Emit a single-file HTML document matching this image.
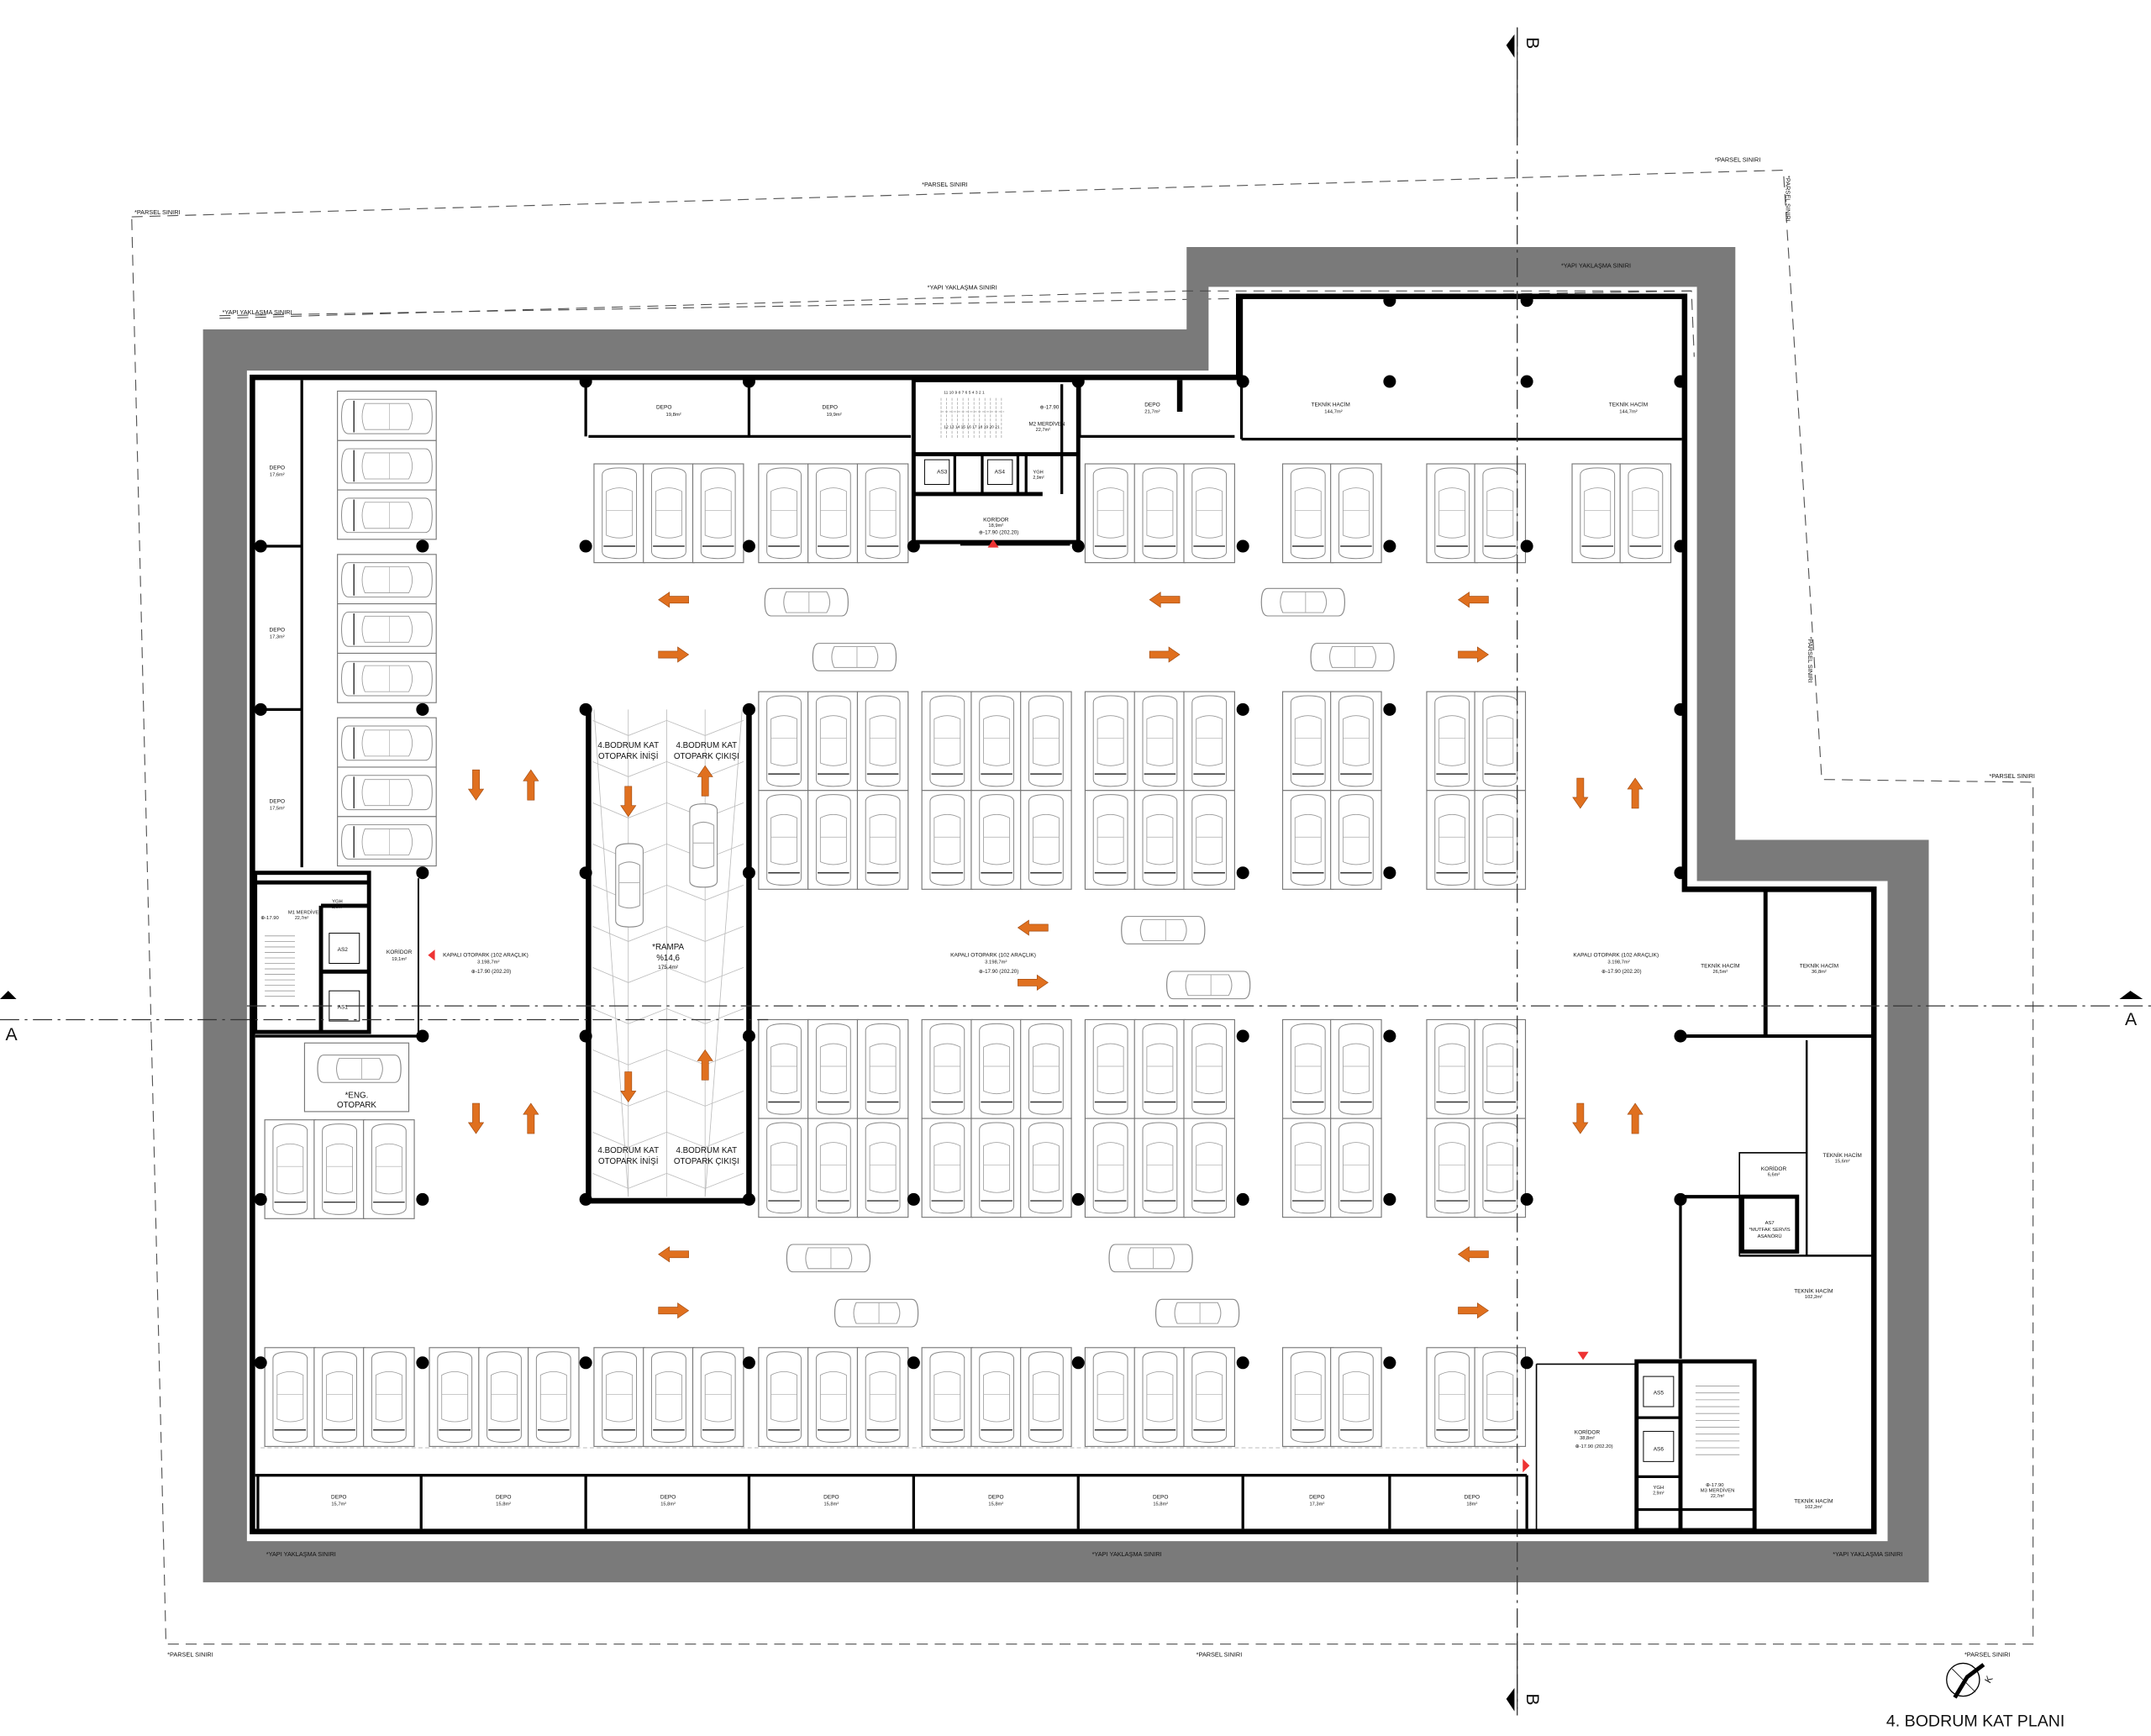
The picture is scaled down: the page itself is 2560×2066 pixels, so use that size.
<!DOCTYPE html>
<html><head><meta charset="utf-8"><style>
html,body{margin:0;padding:0;background:#fff}
svg{display:block}
text{font-family:"Liberation Sans",sans-serif;fill:#111}
</style></head><body>
<svg width="2560" height="2066" viewBox="0 0 1568 1265" preserveAspectRatio="none" xmlns="http://www.w3.org/2000/svg">
<defs>
<g id="car">
<path d="M6,8 Q6,3 18.5,3 Q31,3 31,8 L31,64 Q31,69 18.5,69 Q6,69 6,64 Z" fill="#fff" stroke="#888" stroke-width="0.6"/>
<path d="M9,20 Q18.5,15 28,20 L28,52 Q18.5,56 9,52 Z" fill="none" stroke="#999" stroke-width="0.5"/>
<line x1="9" y1="34" x2="28" y2="34" stroke="#aaa" stroke-width="0.4"/>
<line x1="7" y1="60" x2="30" y2="60" stroke="#333" stroke-width="0.9"/>
</g>
<g id="carb">
<path d="M6,8 Q6,3 18.5,3 Q31,3 31,8 L31,64 Q31,69 18.5,69 Q6,69 6,64 Z" fill="#fff" stroke="#888" stroke-width="0.8"/>
<path d="M9,20 Q18.5,15 28,20 L28,52 Q18.5,56 9,52 Z" fill="none" stroke="#999" stroke-width="0.7"/>
<line x1="9" y1="34" x2="28" y2="34" stroke="#aaa" stroke-width="0.6"/>
</g>
<g id="sv"><rect x="0" y="0" width="37" height="72" fill="#fff" stroke="#777" stroke-width="0.7"/><use href="#car"/></g>
<g id="g3"><use href="#sv"/><use href="#sv" x="36"/><use href="#sv" x="72"/></g>
<g id="g2"><use href="#sv"/><use href="#sv" x="35"/></g>
<g id="d3"><use href="#g3"/><use href="#g3" y="72"/></g>
<g id="d2"><use href="#g2"/><use href="#g2" y="72"/></g>
<g id="hc3"><rect x="0" y="0" width="72" height="108" fill="#fff" stroke="#777" stroke-width="0.7"/><g transform="translate(72,0) rotate(90)"><use href="#car"/></g><g transform="translate(72,36) rotate(90)"><use href="#car"/></g><g transform="translate(72,72) rotate(90)"><use href="#car"/></g><line x1="0" y1="36" x2="72" y2="36" stroke="#777" stroke-width="0.7"/><line x1="0" y1="72" x2="72" y2="72" stroke="#777" stroke-width="0.7"/></g>
<g id="fcar"><g transform="translate(66,-2) rotate(90) scale(0.8,0.92)"><use href="#carb"/></g></g>
<path id="ar" d="M-11,-2.5 L3,-2.5 L3,-5.5 L11,0 L3,5.5 L3,2.5 L-11,2.5 Z" fill="#e0701f" stroke="#a04a10" stroke-width="0.4"/>
<circle id="col" r="4.6" fill="#000"/>
</defs>

<!-- parcel boundary -->
<g fill="none" stroke="#555" stroke-width="0.7" stroke-dasharray="8,5">
<polyline points="96,158 1300,124 1328,568 1482,570 1482,1198 121,1198 96,158"/>
<polyline points="160,230 1233,212 1235,260"/>
</g>
<text x="98" y="156" font-size="4.5">*PARSEL SINIRI</text>
<text x="672" y="136" font-size="4.5">*PARSEL SINIRI</text>
<text x="1250" y="118" font-size="4.5">*PARSEL SINIRI</text>
<text x="1450" y="567" font-size="4.5">*PARSEL SINIRI</text>
<text x="122" y="1207" font-size="4.5">*PARSEL SINIRI</text>
<text x="872" y="1207" font-size="4.5">*PARSEL SINIRI</text>
<text x="1432" y="1207" font-size="4.5">*PARSEL SINIRI</text>
<text transform="translate(1302,128) rotate(90)" font-size="4.5">*PARSEL SINIRI</text>
<text transform="translate(1318,464) rotate(90)" font-size="4.5">*PARSEL SINIRI</text>

<!-- gray band -->
<path d="M148,240 L865,240 L865,180 L1265,180 L1265,612 L1406,612 L1406,1153 L148,1153 Z M180,270 L180,1123 L1376,1123 L1376,642 L1237,642 L1237,209 L881,209 L881,270 Z" fill="#7a7a7a" fill-rule="evenodd"/>
<polyline points="160,232 865,212 1233,212" fill="none" stroke="#444" stroke-width="0.6" stroke-dasharray="8,5"/>
<text x="162" y="229" font-size="4.5">*YAPI YAKLAŞMA SINIRI</text>
<text x="676" y="211" font-size="4.5">*YAPI YAKLAŞMA SINIRI</text>
<text x="1138" y="195" font-size="4.5">*YAPI YAKLAŞMA SINIRI</text>
<text x="194" y="1134" font-size="4.5">*YAPI YAKLAŞMA SINIRI</text>
<text x="796" y="1134" font-size="4.5">*YAPI YAKLAŞMA SINIRI</text>
<text x="1336" y="1134" font-size="4.5">*YAPI YAKLAŞMA SINIRI</text>

<!-- main walls -->
<path d="M184,275 L903,275 L903,216 L1228,216 L1228,648 L1366,648 L1366,1116 L184,1116 Z" fill="none" stroke="#000" stroke-width="4"/>

<!-- top rooms -->
<g stroke="#000" stroke-width="2" fill="none">
<line x1="427" y1="277" x2="427" y2="318"/><line x1="546" y1="277" x2="546" y2="318"/>
<line x1="429" y1="318" x2="664" y2="318"/>
<line x1="787" y1="318" x2="900" y2="318"/>
<line x1="787" y1="277" x2="787" y2="318"/>
<line x1="905" y1="320" x2="1226" y2="320"/>
<line x1="905" y1="218" x2="905" y2="320"/>
<line x1="860" y1="277" x2="860" y2="300" stroke-width="4"/>
</g>
<text x="484" y="298" font-size="4" text-anchor="middle">DEPO</text><text x="491" y="303" font-size="3.6" text-anchor="middle">19,8m²</text>
<text x="605" y="298" font-size="4" text-anchor="middle">DEPO</text><text x="608" y="303" font-size="3.6" text-anchor="middle">19,9m²</text>
<text x="840" y="296" font-size="4" text-anchor="middle">DEPO</text><text x="840" y="301" font-size="3.6" text-anchor="middle">21,7m²</text>
<text x="970" y="296" font-size="4" text-anchor="middle">TEKNİK HACİM</text><text x="972" y="301" font-size="3.6" text-anchor="middle">144,7m²</text>
<text x="1187" y="296" font-size="4" text-anchor="middle">TEKNİK HACİM</text><text x="1187" y="301" font-size="3.6" text-anchor="middle">144,7m²</text>

<!-- top core -->
<g stroke="#000" fill="none">
<rect x="666" y="277" width="120" height="118" stroke-width="3"/>
<line x1="666" y1="331" x2="786" y2="331" stroke-width="3"/>
<line x1="696" y1="331" x2="696" y2="360" stroke-width="2"/>
<line x1="716" y1="331" x2="716" y2="360" stroke-width="2"/>
<line x1="742" y1="331" x2="742" y2="360" stroke-width="2"/>
<line x1="748" y1="331" x2="748" y2="360" stroke-width="2"/>
<line x1="666" y1="360" x2="760" y2="360" stroke-width="3"/>
<line x1="774" y1="280" x2="774" y2="360" stroke-width="2"/>
<rect x="674" y="335" width="18" height="18" stroke-width="0.6"/>
<rect x="720" y="335" width="18" height="18" stroke-width="0.6"/>
</g>
<g stroke="#aaa" stroke-width="0.5" stroke-dasharray="2,1">
<line x1="686" y1="290" x2="686" y2="320"/><line x1="690" y1="290" x2="690" y2="320"/><line x1="694" y1="290" x2="694" y2="320"/><line x1="698" y1="290" x2="698" y2="320"/><line x1="702" y1="290" x2="702" y2="320"/><line x1="706" y1="290" x2="706" y2="320"/><line x1="710" y1="290" x2="710" y2="320"/><line x1="714" y1="290" x2="714" y2="320"/><line x1="718" y1="290" x2="718" y2="320"/><line x1="722" y1="290" x2="722" y2="320"/><line x1="726" y1="290" x2="726" y2="320"/><line x1="730" y1="290" x2="730" y2="320"/>
<line x1="686" y1="300" x2="732" y2="300"/>
</g>
<text x="688" y="287" font-size="3">11 10 9 8 7 6 5 4 3 2 1</text>
<text x="688" y="312" font-size="3">12 13 14 15 16 17 18 19 20 21</text>
<text x="750" y="310" font-size="3.8">M2 MERDİVEN</text><text x="755" y="314" font-size="3.4">22,7m²</text>
<text x="758" y="298" font-size="3.8">⊕-17.90</text>
<text x="683" y="345" font-size="4">AS3</text><text x="725" y="345" font-size="4">AS4</text>
<text x="753" y="345" font-size="3.5">YGH</text><text x="753" y="349" font-size="3.2">2,9m²</text>
<text x="726" y="380" font-size="4" text-anchor="middle">KORİDOR</text><text x="726" y="384" font-size="3.5" text-anchor="middle">18,9m²</text>
<text x="728" y="389" font-size="3.8" text-anchor="middle">⊕-17.90 (202.20)</text>
<line x1="700" y1="397" x2="780" y2="397" stroke="#000" stroke-width="1.2"/>
<polygon points="724,397 728,403 720,403" fill="#e33" transform="translate(0,-4)"/>

<!-- left depots -->
<g stroke="#000" fill="none">
<line x1="220" y1="277" x2="220" y2="632" stroke-width="2"/>
<line x1="186" y1="398" x2="220" y2="398" stroke-width="2"/>
<line x1="186" y1="517" x2="220" y2="517" stroke-width="2"/>
</g>
<text x="202" y="342" font-size="4" text-anchor="middle">DEPO</text><text x="202" y="347" font-size="3.5" text-anchor="middle">17,6m²</text>
<text x="202" y="460" font-size="4" text-anchor="middle">DEPO</text><text x="202" y="465" font-size="3.5" text-anchor="middle">17,3m²</text>
<text x="202" y="585" font-size="4" text-anchor="middle">DEPO</text><text x="202" y="590" font-size="3.5" text-anchor="middle">17,5m²</text>

<!-- left core -->
<g stroke="#000" fill="none">
<rect x="186" y="636" width="83" height="116" stroke-width="3"/>
<line x1="234" y1="660" x2="234" y2="752" stroke-width="3"/>
<line x1="234" y1="660" x2="269" y2="660" stroke-width="3"/>
<line x1="234" y1="708" x2="269" y2="708" stroke-width="3"/>
<line x1="186" y1="643" x2="269" y2="643" stroke-width="3"/>
<line x1="269" y1="660" x2="269" y2="752" stroke-width="2"/>
<rect x="240" y="680" width="22" height="22" stroke-width="0.6"/>
<rect x="240" y="722" width="22" height="22" stroke-width="0.6"/>
<line x1="305" y1="640" x2="305" y2="752" stroke-width="1.2"/>
</g>
<g stroke="#999" stroke-width="0.5">
<line x1="193" y1="682" x2="215" y2="682"/><line x1="193" y1="686" x2="215" y2="686"/><line x1="193" y1="690" x2="215" y2="690"/><line x1="193" y1="694" x2="215" y2="694"/><line x1="193" y1="698" x2="215" y2="698"/><line x1="193" y1="702" x2="215" y2="702"/><line x1="193" y1="706" x2="215" y2="706"/><line x1="193" y1="710" x2="215" y2="710"/><line x1="193" y1="714" x2="215" y2="714"/><line x1="193" y1="718" x2="215" y2="718"/><line x1="193" y1="722" x2="215" y2="722"/><line x1="193" y1="726" x2="215" y2="726"/>
</g>
<text x="210" y="666" font-size="3.6">M1 MERDİVEN</text><text x="215" y="670" font-size="3.2">22,7m²</text>
<text x="190" y="670" font-size="3.6">⊕-17.90</text>
<text x="242" y="658" font-size="3.6">YGH</text><text x="242" y="662" font-size="3.2">2,9m²</text>
<text x="246" y="693" font-size="4">AS2</text><text x="246" y="735" font-size="4">AS1</text>
<text x="291" y="695" font-size="4" text-anchor="middle">KORİDOR</text><text x="291" y="700" font-size="3.5" text-anchor="middle">19,1m²</text>
<polygon points="312,696 317,692 317,700" fill="#e33"/>

<!-- ENG OTOPARK -->
<rect x="222" y="760" width="76" height="50" fill="#fff" stroke="#777" stroke-width="0.7"/>
<use href="#fcar" transform="translate(229,766)"/>
<text x="260" y="800" font-size="6" text-anchor="middle">*ENG.</text>
<text x="260" y="807" font-size="6" text-anchor="middle">OTOPARK</text>
<line x1="186" y1="755" x2="305" y2="755" stroke="#000" stroke-width="2"/>

<!-- left column stalls -->
<use href="#hc3" x="246" y="285"/>
<use href="#hc3" x="246" y="404"/>
<use href="#hc3" x="246" y="523"/>

<!-- parking rows -->
<use href="#g3" x="433" y="338"/><use href="#g3" x="553" y="338"/><use href="#g3" x="791" y="338"/>
<use href="#g2" x="935" y="338"/><use href="#g2" x="1040" y="338"/><use href="#g2" x="1146" y="338"/>

<use href="#d3" x="553" y="504"/><use href="#d3" x="672" y="504"/><use href="#d3" x="791" y="504"/>
<use href="#d2" x="935" y="504"/><use href="#d2" x="1040" y="504"/>

<use href="#d3" x="553" y="743"/><use href="#d3" x="672" y="743"/><use href="#d3" x="791" y="743"/>
<use href="#d2" x="935" y="743"/><use href="#d2" x="1040" y="743"/>
<use href="#g3" x="193" y="816"/>

<use href="#g3" x="193" y="982"/><use href="#g3" x="313" y="982"/><use href="#g3" x="433" y="982"/>
<use href="#g3" x="553" y="982"/><use href="#g3" x="672" y="982"/><use href="#g3" x="791" y="982"/>
<use href="#g2" x="935" y="982"/><use href="#g2" x="1040" y="982"/>
<line x1="190" y1="1055" x2="1110" y2="1055" stroke="#bbb" stroke-width="0.6" stroke-dasharray="3,2"/>

<!-- aisle cars -->
<use href="#fcar" x="555" y="426"/><use href="#fcar" x="590" y="466"/>
<use href="#fcar" x="917" y="426"/><use href="#fcar" x="953" y="466"/>
<use href="#fcar" x="815" y="665"/><use href="#fcar" x="848" y="705"/>
<use href="#fcar" x="571" y="904"/><use href="#fcar" x="606" y="944"/>
<use href="#fcar" x="806" y="904"/><use href="#fcar" x="840" y="944"/>

<!-- ramp -->
<g stroke="#bbb" stroke-width="0.5" fill="none">
<line x1="433" y1="517" x2="458" y2="872"/><line x1="541" y1="517" x2="514" y2="872"/>
<line x1="458" y1="517" x2="458" y2="872"/><line x1="486" y1="517" x2="486" y2="872"/><line x1="514" y1="517" x2="514" y2="872"/>
<polyline points="432,525 458,536 486,525 514,536 542,525"/>
<polyline points="432,555 458,566 486,555 514,566 542,555"/>
<polyline points="432,585 458,596 486,585 514,596 542,585"/>
<polyline points="432,615 458,626 486,615 514,626 542,615"/>
<polyline points="432,645 458,656 486,645 514,656 542,645"/>
<polyline points="432,675 458,686 486,675 514,686 542,675"/>
<polyline points="432,705 458,716 486,705 514,716 542,705"/>
<polyline points="432,735 458,746 486,735 514,746 542,735"/>
<polyline points="432,765 458,776 486,765 514,776 542,765"/>
<polyline points="432,795 458,806 486,795 514,806 542,795"/>
<polyline points="432,825 458,836 486,825 514,836 542,825"/>
<polyline points="432,855 458,866 486,855 514,866 542,855"/>
</g>
<g stroke="#000" stroke-width="4" fill="none">
<polyline points="429,515 429,875 546,875 546,515"/>
</g>
<g transform="translate(444,612) scale(0.8,0.92)"><use href="#carb"/></g>
<g transform="translate(498,583) scale(0.8,0.92)"><use href="#carb"/></g>
<text x="458" y="545" font-size="6" text-anchor="middle">4.BODRUM KAT</text><text x="458" y="553" font-size="6" text-anchor="middle">OTOPARK İNİŞİ</text>
<text x="515" y="545" font-size="6" text-anchor="middle">4.BODRUM KAT</text><text x="515" y="553" font-size="6" text-anchor="middle">OTOPARK ÇIKIŞI</text>
<text x="487" y="692" font-size="6" text-anchor="middle">*RAMPA</text><text x="487" y="700" font-size="6" text-anchor="middle">%14,6</text><text x="487" y="706" font-size="4" text-anchor="middle">175,4m²</text>
<text x="458" y="840" font-size="6" text-anchor="middle">4.BODRUM KAT</text><text x="458" y="848" font-size="6" text-anchor="middle">OTOPARK İNİŞİ</text>
<text x="515" y="840" font-size="6" text-anchor="middle">4.BODRUM KAT</text><text x="515" y="848" font-size="6" text-anchor="middle">OTOPARK ÇIKIŞI</text>

<!-- arrows -->
<g>
<use href="#ar" transform="translate(491,437) rotate(180)"/><use href="#ar" transform="translate(849,437) rotate(180)"/><use href="#ar" transform="translate(1074,437) rotate(180)"/>
<use href="#ar" transform="translate(491,477)"/><use href="#ar" transform="translate(849,477)"/><use href="#ar" transform="translate(1074,477)"/>
<use href="#ar" transform="translate(753,676) rotate(180)"/><use href="#ar" transform="translate(753,716)"/>
<use href="#ar" transform="translate(491,914) rotate(180)"/><use href="#ar" transform="translate(1074,914) rotate(180)"/>
<use href="#ar" transform="translate(491,955)"/><use href="#ar" transform="translate(1074,955)"/>
<use href="#ar" transform="translate(347,572) rotate(90)"/><use href="#ar" transform="translate(387,572) rotate(-90)"/>
<use href="#ar" transform="translate(347,815) rotate(90)"/><use href="#ar" transform="translate(387,815) rotate(-90)"/>
<use href="#ar" transform="translate(1152,578) rotate(90)"/><use href="#ar" transform="translate(1192,578) rotate(-90)"/>
<use href="#ar" transform="translate(1152,815) rotate(90)"/><use href="#ar" transform="translate(1192,815) rotate(-90)"/>
<use href="#ar" transform="translate(458,584) rotate(90)"/><use href="#ar" transform="translate(514,569) rotate(-90)"/>
<use href="#ar" transform="translate(458,792) rotate(90)"/><use href="#ar" transform="translate(514,776) rotate(-90)"/>
</g>

<!-- parking labels -->
<text x="354" y="697" font-size="4" text-anchor="middle">KAPALI OTOPARK (102 ARAÇLIK)</text><text x="356" y="702" font-size="3.6" text-anchor="middle">3.198,7m²</text><text x="358" y="709" font-size="3.8" text-anchor="middle">⊕-17.90 (202.20)</text>
<text x="724" y="697" font-size="4" text-anchor="middle">KAPALI OTOPARK (102 ARAÇLIK)</text><text x="726" y="702" font-size="3.6" text-anchor="middle">3.198,7m²</text><text x="728" y="709" font-size="3.8" text-anchor="middle">⊕-17.90 (202.20)</text>
<text x="1178" y="697" font-size="4" text-anchor="middle">KAPALI OTOPARK (102 ARAÇLIK)</text><text x="1180" y="702" font-size="3.6" text-anchor="middle">3.198,7m²</text><text x="1182" y="709" font-size="3.8" text-anchor="middle">⊕-17.90 (202.20)</text>

<!-- bottom depots -->
<g stroke="#000" stroke-width="2">
<line x1="186" y1="1075" x2="1113" y2="1075"/>
<line x1="188" y1="1075" x2="188" y2="1114"/><line x1="307" y1="1075" x2="307" y2="1114"/><line x1="427" y1="1075" x2="427" y2="1114"/><line x1="546" y1="1075" x2="546" y2="1114"/><line x1="666" y1="1075" x2="666" y2="1114"/><line x1="786" y1="1075" x2="786" y2="1114"/><line x1="906" y1="1075" x2="906" y2="1114"/><line x1="1013" y1="1075" x2="1013" y2="1114"/><line x1="1113" y1="1075" x2="1113" y2="1114"/>
</g>
<g font-size="4" text-anchor="middle">
<text x="247" y="1092">DEPO</text><text x="247" y="1097" font-size="3.5">15,7m²</text>
<text x="367" y="1092">DEPO</text><text x="367" y="1097" font-size="3.5">15,8m²</text>
<text x="487" y="1092">DEPO</text><text x="487" y="1097" font-size="3.5">15,8m²</text>
<text x="606" y="1092">DEPO</text><text x="606" y="1097" font-size="3.5">15,8m²</text>
<text x="726" y="1092">DEPO</text><text x="726" y="1097" font-size="3.5">15,8m²</text>
<text x="846" y="1092">DEPO</text><text x="846" y="1097" font-size="3.5">15,8m²</text>
<text x="960" y="1092">DEPO</text><text x="960" y="1097" font-size="3.5">17,3m²</text>
<text x="1073" y="1092">DEPO</text><text x="1073" y="1097" font-size="3.5">18m²</text>
</g>

<!-- right rooms -->
<g stroke="#000" fill="none">
<line x1="1287" y1="648" x2="1287" y2="755" stroke-width="3"/>
<line x1="1228" y1="755" x2="1366" y2="755" stroke-width="2.5"/>
<line x1="1317" y1="758" x2="1317" y2="915" stroke-width="1.5"/>
<rect x="1268" y="840" width="49" height="75" stroke-width="1"/>
<rect x="1270" y="872" width="40" height="40" stroke-width="3"/>
<line x1="1225" y1="872" x2="1268" y2="872" stroke-width="2.5"/>
<line x1="1268" y1="915" x2="1366" y2="915" stroke-width="1.5"/>
<line x1="1225" y1="872" x2="1225" y2="990" stroke-width="2"/>
<rect x="1193" y="992" width="86" height="123" stroke-width="3"/>
<line x1="1225" y1="992" x2="1225" y2="1115" stroke-width="3"/>
<line x1="1193" y1="1033" x2="1225" y2="1033" stroke-width="2"/>
<line x1="1193" y1="1076" x2="1225" y2="1076" stroke-width="2"/>
<line x1="1193" y1="1100" x2="1279" y2="1100" stroke-width="2"/>
<line x1="1120" y1="994" x2="1193" y2="994" stroke-width="1"/>
<line x1="1120" y1="994" x2="1120" y2="1115" stroke-width="1"/>
<rect x="1198" y="1003" width="22" height="22" stroke-width="0.6"/>
<rect x="1198" y="1043" width="22" height="22" stroke-width="0.6"/>
</g>
<g font-size="4" text-anchor="middle">
<text x="1254" y="705">TEKNİK HACİM</text><text x="1254" y="709" font-size="3.5">26,5m²</text>
<text x="1326" y="705">TEKNİK HACİM</text><text x="1326" y="709" font-size="3.5">36,8m²</text>
<text x="1343" y="843">TEKNİK HACİM</text><text x="1343" y="847" font-size="3.5">15,6m²</text>
<text x="1293" y="853">KORİDOR</text><text x="1293" y="857" font-size="3.5">6,6m²</text>
<text x="1290" y="892" font-size="3.6">AS7</text><text x="1290" y="897" font-size="3.6">*MUTFAK SERVİS</text><text x="1290" y="902" font-size="3.6">ASANÖRÜ</text>
<text x="1322" y="942">TEKNİK HACİM</text><text x="1322" y="946" font-size="3.5">102,2m²</text>
<text x="1322" y="1095">TEKNİK HACİM</text><text x="1322" y="1099" font-size="3.5">102,2m²</text>
<text x="1209" y="1016">AS5</text><text x="1209" y="1057">AS6</text>
<text x="1209" y="1085" font-size="3.6">YGH</text><text x="1209" y="1089" font-size="3.2">2,9m²</text>
<text x="1250" y="1083" font-size="3.6">⊕-17.90</text><text x="1252" y="1087" font-size="3.6">M3 MERDİVEN</text><text x="1252" y="1091" font-size="3.2">22,7m²</text>
<text x="1157" y="1045">KORİDOR</text><text x="1157" y="1049" font-size="3.5">38,8m²</text><text x="1162" y="1055" font-size="3.6">⊕-17.90 (202.20)</text>
</g>
<g stroke="#999" stroke-width="0.5">
<line x1="1236" y1="1010" x2="1268" y2="1010"/><line x1="1236" y1="1015" x2="1268" y2="1015"/><line x1="1236" y1="1020" x2="1268" y2="1020"/><line x1="1236" y1="1025" x2="1268" y2="1025"/><line x1="1236" y1="1030" x2="1268" y2="1030"/><line x1="1236" y1="1035" x2="1268" y2="1035"/><line x1="1236" y1="1040" x2="1268" y2="1040"/><line x1="1236" y1="1045" x2="1268" y2="1045"/><line x1="1236" y1="1050" x2="1268" y2="1050"/><line x1="1236" y1="1055" x2="1268" y2="1055"/><line x1="1236" y1="1060" x2="1268" y2="1060"/>
</g>
<polygon points="1150,985 1158,985 1154,991" fill="#e33"/>
<polygon points="1110,1063 1110,1073 1115,1068" fill="#e33"/>

<!-- columns -->
<g>
<use href="#col" x="308" y="398"/><use href="#col" x="427" y="398"/><use href="#col" x="546" y="398"/><use href="#col" x="666" y="398"/><use href="#col" x="786" y="398"/><use href="#col" x="906" y="398"/><use href="#col" x="1013" y="398"/><use href="#col" x="1113" y="398"/><use href="#col" x="1225" y="398"/>
<use href="#col" x="308" y="517"/><use href="#col" x="427" y="517"/><use href="#col" x="546" y="517"/><use href="#col" x="906" y="517"/><use href="#col" x="1013" y="517"/><use href="#col" x="1225" y="517"/>
<use href="#col" x="308" y="636"/><use href="#col" x="427" y="636"/><use href="#col" x="546" y="636"/><use href="#col" x="906" y="636"/><use href="#col" x="1013" y="636"/><use href="#col" x="1225" y="636"/>
<use href="#col" x="308" y="755"/><use href="#col" x="427" y="755"/><use href="#col" x="546" y="755"/><use href="#col" x="906" y="755"/><use href="#col" x="1013" y="755"/><use href="#col" x="1225" y="755"/>
<use href="#col" x="308" y="874"/><use href="#col" x="427" y="874"/><use href="#col" x="546" y="874"/><use href="#col" x="666" y="874"/><use href="#col" x="786" y="874"/><use href="#col" x="906" y="874"/><use href="#col" x="1013" y="874"/><use href="#col" x="1113" y="874"/><use href="#col" x="1225" y="874"/>
<use href="#col" x="308" y="993"/><use href="#col" x="427" y="993"/><use href="#col" x="546" y="993"/><use href="#col" x="666" y="993"/><use href="#col" x="786" y="993"/><use href="#col" x="906" y="993"/><use href="#col" x="1013" y="993"/><use href="#col" x="1113" y="993"/>
<use href="#col" x="906" y="278"/><use href="#col" x="1013" y="278"/><use href="#col" x="1113" y="278"/><use href="#col" x="1225" y="278"/>
<use href="#col" x="1013" y="219"/><use href="#col" x="1113" y="219"/>
<use href="#col" x="427" y="278"/><use href="#col" x="546" y="278"/><use href="#col" x="786" y="278"/>
<use href="#col" x="190" y="398"/><use href="#col" x="190" y="517"/><use href="#col" x="190" y="874"/><use href="#col" x="190" y="993"/>
</g>

<!-- section lines -->
<g stroke="#333" stroke-width="0.8" fill="none" stroke-dasharray="14,4,2,4">
<line x1="0" y1="743" x2="560" y2="743"/>
<line x1="180" y1="733" x2="1568" y2="733"/>
<line x1="1106" y1="20" x2="1106" y2="1245"/>
</g>
<line x1="1106" y1="20" x2="1106" y2="100" stroke="#333" stroke-width="0.8"/>
<line x1="1106" y1="1190" x2="1106" y2="1250" stroke="#333" stroke-width="0.8"/>
<polygon points="0,728 12,728 6,722" fill="#000"/>
<text x="4" y="758" font-size="13">A</text>
<polygon points="1545,728 1562,728 1553,722" fill="#000"/>
<text x="1549" y="747" font-size="13">A</text>
<polygon points="1104,25 1104,42 1098,33" fill="#000"/>
<text transform="translate(1113,27) rotate(90)" font-size="13">B</text>
<polygon points="1104,1230 1104,1247 1098,1238" fill="#000"/>
<text transform="translate(1113,1234) rotate(90)" font-size="13">B</text>

<!-- north + title -->
<circle cx="1431" cy="1224" r="12" fill="none" stroke="#000" stroke-width="0.8"/>
<line x1="1423" y1="1216" x2="1440" y2="1233" stroke="#000" stroke-width="0.5"/>
<polyline points="1425,1237 1434,1222 1446,1213" fill="none" stroke="#000" stroke-width="3"/>
<text x="1446" y="1225" font-size="7" transform="rotate(-60,1450,1222)">K</text>
<text x="1375" y="1258" font-size="12">4. BODRUM KAT PLANI</text>
</svg>
</body></html>
